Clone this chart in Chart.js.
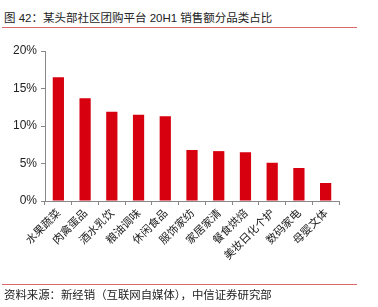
<!DOCTYPE html>
<html>
<head>
<meta charset="utf-8">
<script src="https://cdn.jsdelivr.net/npm/chart.js@4"></script>
<style>
  html, body { margin: 0; padding: 0; background: #fff; }
  body { width: 378px; height: 307px; position: relative; overflow: hidden;
         font-family: 'Liberation Sans', 'Noto Sans CJK SC', sans-serif; color: #222; }
  #title { position: absolute; left: 4px; top: 10px; font-size: 11.5px; line-height: 16px; white-space: nowrap; }
  #topRule { position: absolute; left: 2px; top: 27px; width: 355px; height: 1px; background: #d9686a; }
  #bottomRule { position: absolute; left: 2px; top: 284px; width: 355px; height: 1px; background: #d9686a; }
  #source { position: absolute; left: 4px; top: 287px; font-size: 11.4px; line-height: 16px; white-space: nowrap; }
  #wrap { position: absolute; left: 0; top: 0; width: 378px; height: 307px; }
</style>
</head>
<body>
<div id="title">图 42：某头部社区团购平台 20H1 销售额分品类占比</div>
<div id="topRule"></div>
<div id="wrap"><canvas id="chart"></canvas></div>
<div id="bottomRule"></div>
<div id="source">资料来源：新经销（互联网自媒体），中信证券研究部</div>
<script>
'use strict';

/* ── Data ── */
const categories = ['水果蔬菜', '肉禽蛋品', '酒水乳饮', '粮油调味', '休闲食品', '服饰家纺',
                    '家居家清', '餐食烘焙', '美妆日化个护', '数码家电', '母婴文体'];
const shares = [16.5, 13.7, 11.9, 11.5, 11.3, 6.8, 6.65, 6.5, 5.1, 4.4, 2.4];
const yTicks = [0, 5, 10, 15, 20];

const RED = '#d7000f';
const AXIS = '#888888';

new Chart(document.getElementById('chart'), {
  type: 'bar',
  data: {
    labels: categories,
    datasets: [{
      data: shares,
      backgroundColor: RED,
      borderWidth: 0,
      barPercentage: 0.42,
      categoryPercentage: 1,
    }],
  },
  options: {
    responsive: true,
    maintainAspectRatio: false,
    animation: false,
    layout: { padding: { left: 0, right: 39, top: 51, bottom: 26 } },
    plugins: { legend: { display: false }, tooltip: { enabled: false } },
    scales: {
      x: {
        grid: { drawOnChartArea: false, color: AXIS, tickLength: 4, offset: true },
        border: { color: AXIS },
        ticks: {
          color: '#222',
          font: { family: "'Noto Sans CJK SC'", size: 11 },
          minRotation: 45, maxRotation: 45, autoSkip: false, padding: 1,
        },
        afterFit: (s) => { s.height = 80; },
      },
      y: {
        min: yTicks[0], max: yTicks[yTicks.length - 1],
        afterBuildTicks: (s) => { s.ticks = yTicks.map(v => ({ value: v })); },
        grid: { drawOnChartArea: false, color: AXIS, tickLength: 4 },
        border: { color: AXIS },
        ticks: {
          color: '#222',
          font: { family: "'Liberation Sans'", size: 12 },
          padding: 4,
          callback: (v) => v + '%',
        },
        afterFit: (s) => { s.width = 45; },
      },
    },
  },
});
</script>
</body>
</html>
